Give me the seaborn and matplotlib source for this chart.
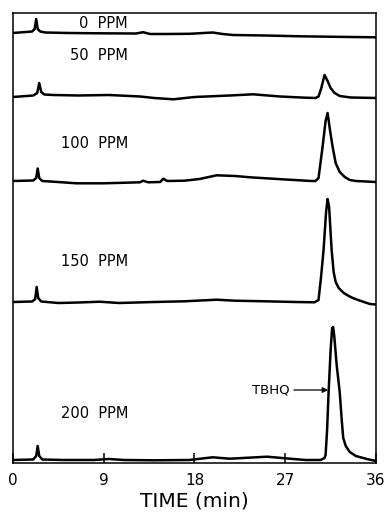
import matplotlib
matplotlib.use("Agg")
import matplotlib.pyplot as plt
import seaborn as sns
import pandas as pd

# ---- data ----
labels = ["0  PPM", "50  PPM", "100  PPM", "150  PPM", "200  PPM"]
offsets = [430, 366, 282, 161, 3]          # baseline level of each stacked trace
label_y = [439, 408, 320, 201, 50]          # vertical position of each label

t_0 = [0, 1.9, 2.15, 2.3, 2.45, 2.7, 3.2, 5.5, 8.5, 12.2, 12.9, 13.6, 15.2, 17.5,
       19.8, 20.8, 21.8, 25, 28.5, 32, 36]
s_0 = [0, 1.5, 4, 14, 4, 1.5, 0.5, 0, -0.3, -0.5, 0.8, -1, -1, -0.8,
       0.5, -1, -2, -2.5, -3.3, -3.8, -4.3]

t_50 = [0, 2.0, 2.4, 2.6, 2.8, 3.1, 4, 6.5, 9.5, 12.6, 14, 15.9, 18, 21.5, 23.8,
        26.5, 29, 30.0, 30.3, 30.55, 30.9, 31.2, 31.5, 31.9, 32.4, 33.5, 36]
s_50 = [0, 1.5, 4, 14, 5, 2.5, 2, 1.5, 2, 0.5, -1, -2.3, 0, 1.5, 2.7,
        0.5, -0.7, -1, 0.5, 8, 22, 16, 9, 4, 1, -0.5, -1]

t_100 = [0, 2.0, 2.3, 2.45, 2.6, 2.9, 4, 6.3, 9, 12.6, 12.9, 13.4, 14.6, 14.9, 15.3,
         17, 18.5, 20.2, 22, 23.5, 26.7, 29.6, 30.0, 30.3, 30.7, 31.0, 31.2, 31.45,
         31.7, 32.0, 32.4, 32.9, 33.4, 34, 36]
s_100 = [0, 0.5, 3, 12.5, 3, 0, -0.7, -2.3, -2.3, -1.3, 0.3, -1.3, -1, 2.3, 0,
         0.3, 2, 5.7, 5, 3.7, 1.7, 0, 0, 3, 34, 60, 68, 50,
         34, 18, 9, 4, 1, 0, -1]

t_150 = [0, 1.9, 2.2, 2.35, 2.5, 2.8, 4.5, 6.5, 8.6, 10.5, 14, 17, 20.2, 22, 25, 28,
         29.9, 30.3, 30.55, 30.8, 31.05, 31.2, 31.35, 31.6, 31.8, 32.0, 32.3, 32.8,
         33.3, 33.7, 34.5, 35.4, 36]
s_150 = [0, 0.5, 3, 15, 4, 0.5, -1, -0.5, 0.3, -1, 0, 0.7, 2.3, 1.3, 0.7, 0,
         -0.3, 2, 25, 52, 90, 103, 95, 52, 30, 20, 14, 9,
         6, 4, 1, -2, -2.5]

t_200 = [0, 2.0, 2.3, 2.45, 2.6, 2.9, 5, 8, 9.5, 11, 14, 17.5, 19.8, 21.5, 25.2, 27,
         29, 30.5, 30.9, 31.0, 31.15, 31.3, 31.5, 31.65, 31.75, 31.85, 32.1, 32.4,
         32.6, 32.75, 33.0, 33.4, 34.0, 35.1, 36]
s_200 = [0, 0.5, 4, 14, 4, 0.5, 0, 0, 1, 0, -0.3, 0, 2.7, 1.3, 3.3, 1.7,
         0, 0, 2, 5, 30, 68, 110, 132, 133, 125, 95, 68,
         40, 22, 14, 8, 4, 1, -1]

times = [t_0, t_50, t_100, t_150, t_200]
signals = [s_0, s_50, s_100, s_150, s_200]

x_ticks = [0, 9, 18, 27, 36]
x_tick_labels = ["0", "9", "18", "27", "36"]

# ---- figure ----
sns.set_theme(style="ticks")
plt.rcParams["font.family"] = ["DejaVu Sans"]

fig = plt.figure(figsize=(3.88, 5.15), dpi=100)
ax = fig.add_axes([13 / 388, 52 / 515, 363 / 388, 450 / 515])

frames = []
for lab, off, t, s in zip(labels, offsets, times, signals):
    frames.append(pd.DataFrame({"time": t,
                                "signal": [v + off for v in s],
                                "trace": lab}))
df = pd.concat(frames, ignore_index=True)

for lab in labels:
    sub = df[df["trace"] == lab]
    sns.lineplot(data=sub, x="time", y="signal", ax=ax, color="black",
                 linewidth=1.8, estimator=None, sort=False,
                 solid_joinstyle="round", solid_capstyle="round")

for lab, ly in zip(labels, label_y):
    ax.text(11.4, ly, lab, ha="right", va="center", fontsize=10.5, color="black")

ax.annotate("TBHQ", xy=(31.25, 73), xytext=(27.4, 73), ha="right", va="center",
            fontsize=9.5, color="black",
            arrowprops=dict(arrowstyle="-|>", color="black", lw=0.9,
                            shrinkA=1, shrinkB=0, mutation_scale=8))

ax.set_xlim(0, 36)
ax.set_ylim(0, 450)
ax.set_xticks(x_ticks)
ax.set_xticklabels(x_tick_labels, fontsize=11)
ax.set_yticks([])
ax.tick_params(axis="x", direction="in", length=7, width=1.1, pad=7, colors="black")
for sp in ax.spines.values():
    sp.set_visible(True)
    sp.set_color("black")
    sp.set_linewidth(1.1)
ax.set_xlabel("TIME (min)", fontsize=14.5, labelpad=3, color="black")
ax.set_ylabel("")
ax.grid(False)

fig.savefig("out.png", dpi=100, facecolor="white")
